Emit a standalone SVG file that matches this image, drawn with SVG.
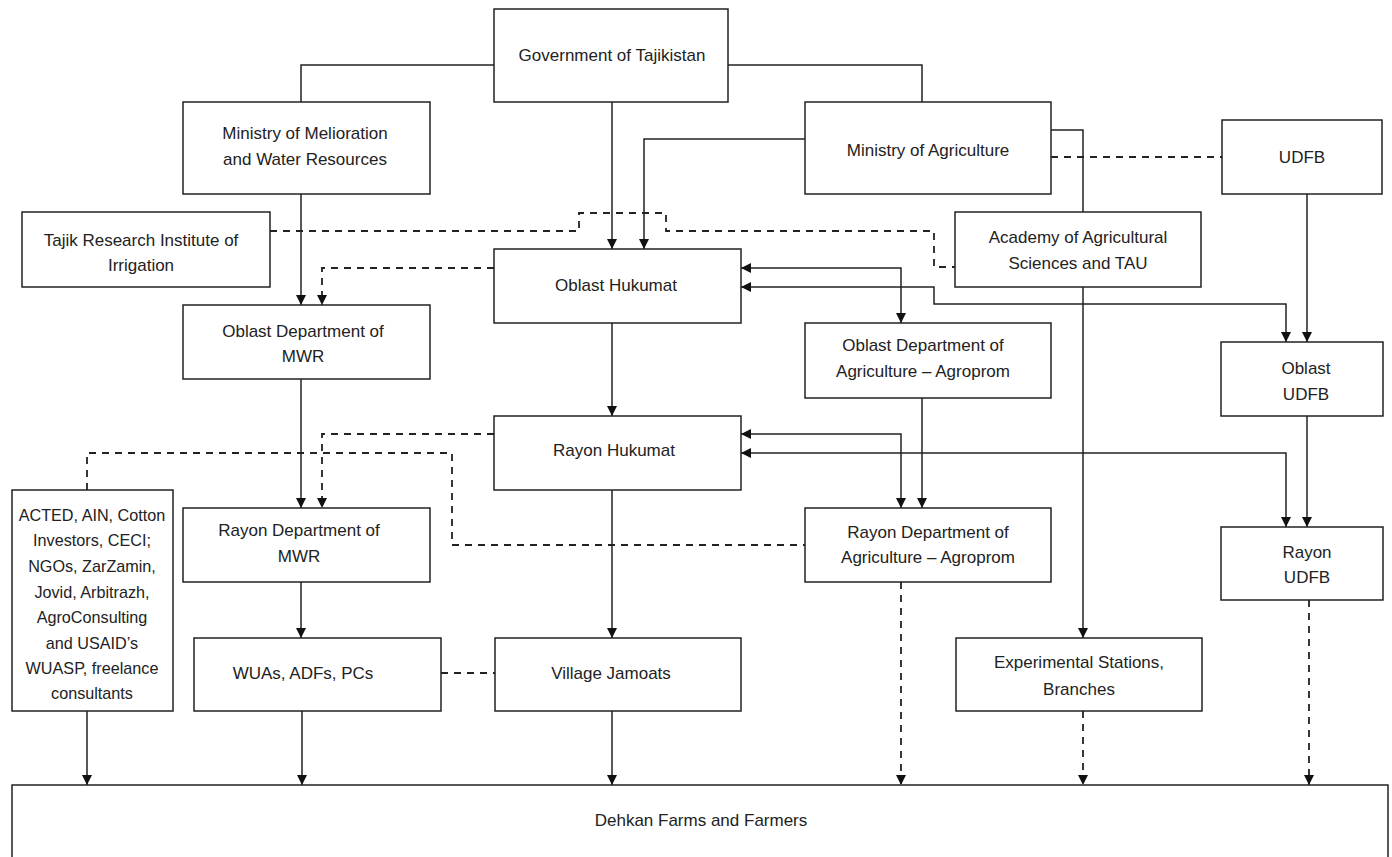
<svg xmlns="http://www.w3.org/2000/svg" width="1392" height="857" viewBox="0 0 1392 857">
<style>
.box{fill:#fff;stroke:#222;stroke-width:1.5}
.t{font-family:"Liberation Sans",Arial,sans-serif;font-size:17px;fill:#222;text-anchor:middle;dominant-baseline:central}
.s{font-size:16.2px}
.c{fill:none;stroke:#222;stroke-width:1.5}
.d{fill:none;stroke:#222;stroke-width:1.8;stroke-dasharray:7,6}
</style>
<defs>
<marker id="ah" viewBox="0 0 10 10" refX="10" refY="5" markerWidth="10" markerHeight="10" markerUnits="userSpaceOnUse" orient="auto-start-reverse">
<path d="M0,0 L10,5 L0,10 z" fill="#111"/>
</marker>
</defs>
<rect width="1392" height="857" fill="#fff"/>
<g id="connectors">
<path class="c" d="M494,65 H301 V102"/>
<path class="c" d="M728,65 H922 V102"/>
<path class="c" d="M612,102 V249" marker-end="url(#ah)"/>
<path class="c" d="M805,139 H644 V249" marker-end="url(#ah)"/>
<path class="c" d="M1051,130 H1083 V212"/>
<path class="c" d="M1083,287 V638" marker-end="url(#ah)"/>
<path class="c" d="M1307,194 V342" marker-end="url(#ah)"/>
<path class="c" d="M301,194 V305" marker-end="url(#ah)"/>
<path class="c" d="M741,268 H901 V323" marker-start="url(#ah)" marker-end="url(#ah)"/>
<path class="c" d="M741,287 H934 V304 H1286 V342" marker-start="url(#ah)" marker-end="url(#ah)"/>
<path class="c" d="M612,323 V416" marker-end="url(#ah)"/>
<path class="c" d="M301,379 V508" marker-end="url(#ah)"/>
<path class="c" d="M922,398 V508" marker-end="url(#ah)"/>
<path class="c" d="M1307,416 V527" marker-end="url(#ah)"/>
<path class="c" d="M741,434 H901 V508" marker-start="url(#ah)" marker-end="url(#ah)"/>
<path class="c" d="M741,453 H1286 V527" marker-start="url(#ah)" marker-end="url(#ah)"/>
<path class="c" d="M612,490 V638" marker-end="url(#ah)"/>
<path class="c" d="M301,582 V638" marker-end="url(#ah)"/>
<path class="c" d="M87,711 V785" marker-end="url(#ah)"/>
<path class="c" d="M302,711 V785" marker-end="url(#ah)"/>
<path class="c" d="M612,711 V785" marker-end="url(#ah)"/>
<path class="d" d="M270,231 H579 V213 H666 V231 H934 V267 H955"/>
<path class="d" d="M494,268 H322 V305" marker-end="url(#ah)"/>
<path class="d" d="M494,434 H322 V508" marker-end="url(#ah)"/>
<path class="d" d="M87,490 V453 H452 V545 H805"/>
<path class="d" d="M1051,157 H1222"/>
<path class="d" d="M441,673 H495"/>
<path class="d" d="M901,582 V785" marker-end="url(#ah)"/>
<path class="d" d="M1083,711 V785" marker-end="url(#ah)"/>
<path class="d" d="M1309,600 V785" marker-end="url(#ah)"/>
</g>
<g id="gov"><rect class="box" x="494" y="9" width="234" height="93"/><text class="t" x="612" y="55">Government of Tajikistan</text></g>
<g id="mmwr"><rect class="box" x="183" y="102" width="247" height="92"/><text class="t" x="305" y="133">Ministry of Melioration</text><text class="t" x="305" y="159">and Water Resources</text></g>
<g id="magri"><rect class="box" x="805" y="102" width="246" height="92"/><text class="t" x="928" y="150">Ministry of Agriculture</text></g>
<g id="udfb"><rect class="box" x="1222" y="120" width="160" height="74"/><text class="t" x="1302" y="157">UDFB</text></g>
<g id="tajik"><rect class="box" x="22" y="212" width="248" height="75"/><text class="t" x="141" y="240">Tajik Research Institute of</text><text class="t" x="141" y="265">Irrigation</text></g>
<g id="academy"><rect class="box" x="955" y="212" width="246" height="75"/><text class="t" x="1078" y="237">Academy of Agricultural</text><text class="t" x="1078" y="263">Sciences and TAU</text></g>
<g id="ohuk"><rect class="box" x="494" y="249" width="247" height="74"/><text class="t" x="616" y="285">Oblast Hukumat</text></g>
<g id="omwr"><rect class="box" x="183" y="305" width="247" height="74"/><text class="t" x="303" y="331">Oblast Department of</text><text class="t" x="303" y="356">MWR</text></g>
<g id="oagri"><rect class="box" x="805" y="323" width="246" height="75"/><text class="t" x="923" y="345">Oblast Department of</text><text class="t" x="923" y="371">Agriculture – Agroprom</text></g>
<g id="oudfb"><rect class="box" x="1221" y="342" width="162" height="74"/><text class="t" x="1306" y="368">Oblast</text><text class="t" x="1306" y="394">UDFB</text></g>
<g id="rhuk"><rect class="box" x="494" y="416" width="247" height="74"/><text class="t" x="614" y="450">Rayon Hukumat</text></g>
<g id="acted"><rect class="box" x="12" y="490" width="161" height="221"/>
<text class="t s" x="92" y="515">ACTED, AIN, Cotton</text>
<text class="t s" x="92" y="540">Investors, CECI;</text>
<text class="t s" x="92" y="566">NGOs, ZarZamin,</text>
<text class="t s" x="92" y="592">Jovid, Arbitrazh,</text>
<text class="t s" x="92" y="617">AgroConsulting</text>
<text class="t s" x="92" y="643">and USAID’s</text>
<text class="t s" x="92" y="668">WUASP, freelance</text>
<text class="t s" x="92" y="693">consultants</text></g>
<g id="rmwr"><rect class="box" x="183" y="508" width="247" height="74"/><text class="t" x="299" y="530">Rayon Department of</text><text class="t" x="299" y="556">MWR</text></g>
<g id="ragri"><rect class="box" x="805" y="508" width="246" height="74"/><text class="t" x="928" y="532">Rayon Department of</text><text class="t" x="928" y="557">Agriculture – Agroprom</text></g>
<g id="rudfb"><rect class="box" x="1221" y="527" width="162" height="73"/><text class="t" x="1307" y="552">Rayon</text><text class="t" x="1307" y="577">UDFB</text></g>
<g id="wuas"><rect class="box" x="194" y="638" width="247" height="73"/><text class="t" x="303" y="673">WUAs, ADFs, PCs</text></g>
<g id="village"><rect class="box" x="495" y="638" width="246" height="73"/><text class="t" x="611" y="673">Village Jamoats</text></g>
<g id="exper"><rect class="box" x="956" y="638" width="246" height="73"/><text class="t" x="1079" y="662">Experimental Stations,</text><text class="t" x="1079" y="689">Branches</text></g>
<g id="dehkan"><rect class="box" x="12" y="785" width="1376" height="90"/><text class="t" x="701" y="820">Dehkan Farms and Farmers</text></g>
</svg>
